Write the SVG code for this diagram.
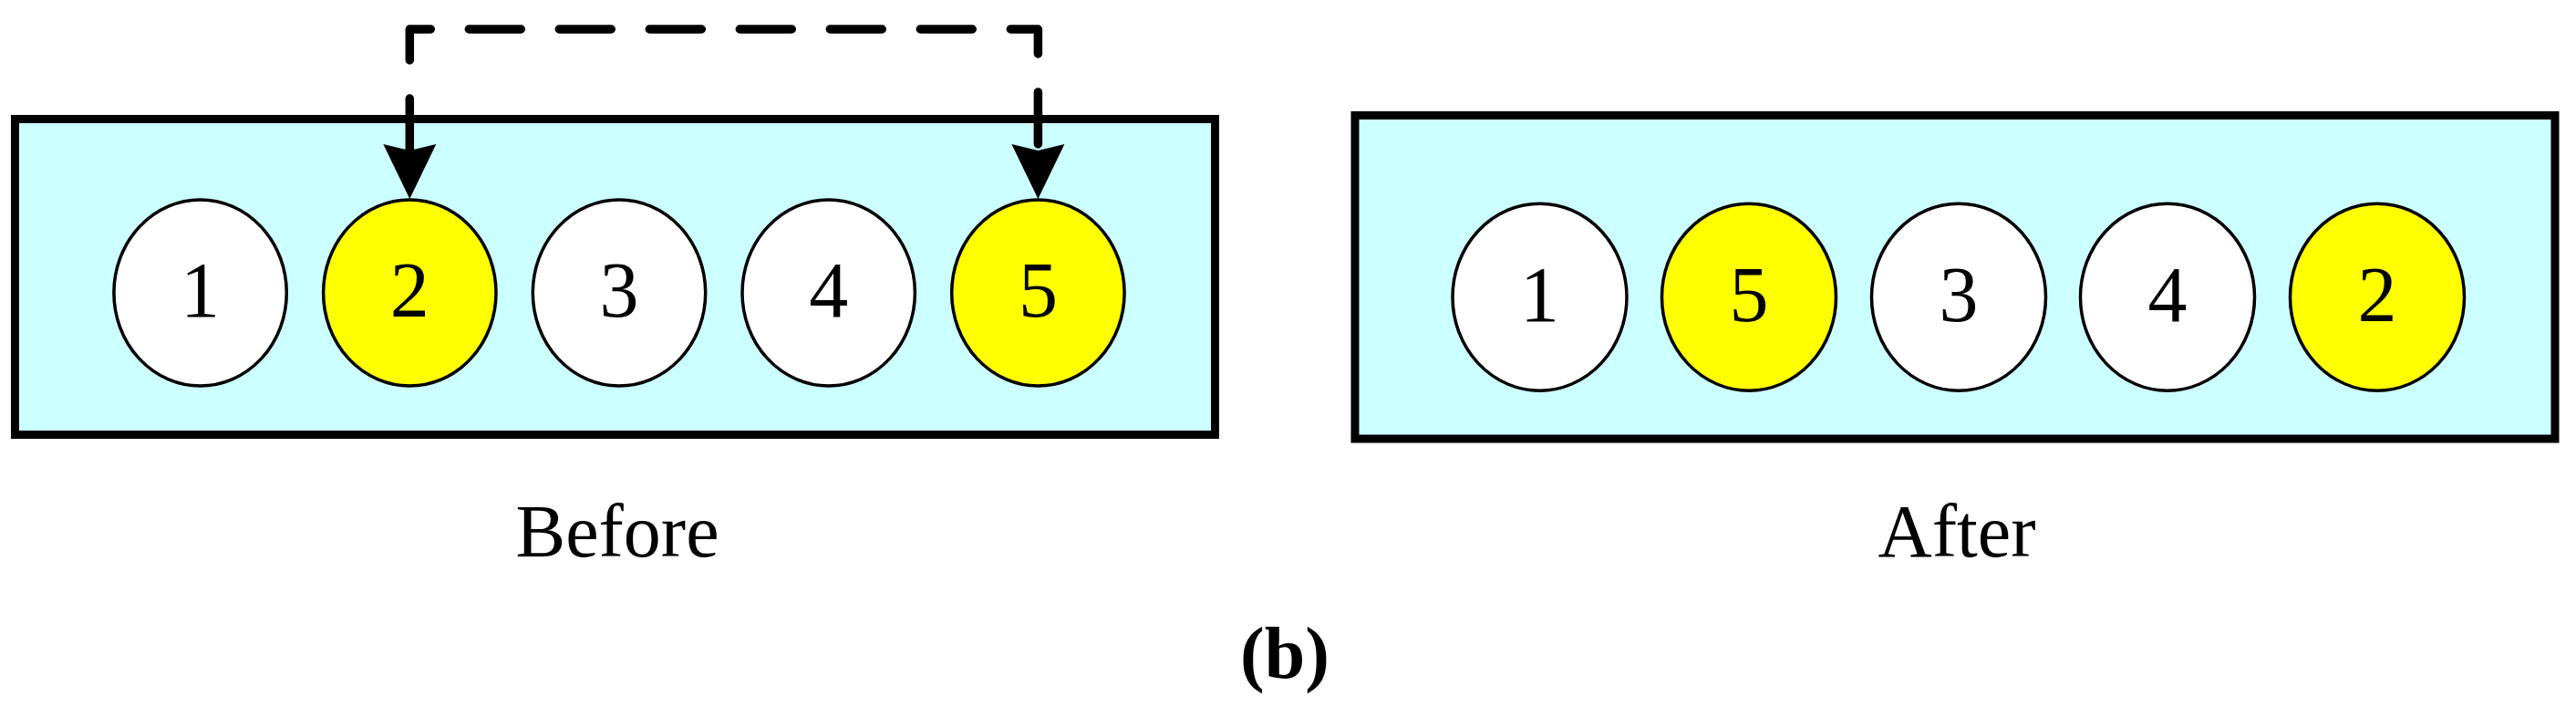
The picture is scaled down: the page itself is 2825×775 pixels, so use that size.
<svg xmlns="http://www.w3.org/2000/svg" width="2825" height="775" viewBox="0 0 2825 775">
<style>
.box{fill:#CCFFFF;stroke:#000;stroke-width:9}
.w{fill:#FFFFFF;stroke:#000;stroke-width:3.5}
.y{fill:#FFFF00;stroke:#000;stroke-width:3.5}
.num{font-family:"Liberation Serif","Times New Roman",serif;font-size:86px;text-anchor:middle;fill:#000}
.lbl{font-family:"Liberation Serif","Times New Roman",serif;font-size:82px;text-anchor:middle;fill:#000}
.cap{font-family:"Liberation Serif","Times New Roman",serif;font-size:80px;font-weight:bold;text-anchor:middle;fill:#000}
.conn{fill:none;stroke:#000;stroke-width:9.5;stroke-linecap:round;stroke-linejoin:round;stroke-dasharray:57 42}
</style>
<defs>
<marker id="ah" markerUnits="userSpaceOnUse" viewBox="0 -30 61 60" refX="7" refY="0" markerWidth="61" markerHeight="60" orient="auto-start-reverse" overflow="visible">
<path d="M0,-29 L60,0 L0,29 L7,0 Z" fill="#000"/>
</marker>
</defs>
<rect width="2825" height="775" fill="#FFFFFF"/>
<g id="before-box">
<rect class="box" x="16.5" y="130.5" width="1316" height="346"/>
</g>
<g id="before-1"><ellipse class="w" cx="219.6" cy="321" rx="94.7" ry="102"/><text class="num" x="219.6" y="347">1</text></g>
<g id="before-2"><ellipse class="y" cx="449.3" cy="321" rx="94.7" ry="102"/><text class="num" x="449.3" y="347">2</text></g>
<g id="before-3"><ellipse class="w" cx="679" cy="321" rx="94.7" ry="102"/><text class="num" x="679" y="347">3</text></g>
<g id="before-4"><ellipse class="w" cx="908.7" cy="321" rx="94.7" ry="102"/><text class="num" x="908.7" y="347">4</text></g>
<g id="before-5"><ellipse class="y" cx="1138.4" cy="321" rx="94.7" ry="102"/><text class="num" x="1138.4" y="347">5</text></g>
<g id="after-box">
<rect class="box" x="1486" y="126.5" width="1316" height="354.5"/>
</g>
<g id="after-1"><ellipse class="w" cx="1688.5" cy="325.7" rx="95.5" ry="102.5"/><text class="num" x="1688.5" y="352">1</text></g>
<g id="after-5"><ellipse class="y" cx="1918" cy="325.7" rx="95.5" ry="102.5"/><text class="num" x="1918" y="352">5</text></g>
<g id="after-3"><ellipse class="w" cx="2148" cy="325.7" rx="95.5" ry="102.5"/><text class="num" x="2148" y="352">3</text></g>
<g id="after-4"><ellipse class="w" cx="2377" cy="325.7" rx="95.5" ry="102.5"/><text class="num" x="2377" y="352">4</text></g>
<g id="after-2"><ellipse class="y" cx="2607" cy="325.7" rx="95.5" ry="102.5"/><text class="num" x="2607" y="352">2</text></g>
<g id="connectors">
<path class="conn" d="M449.3,165 V32 H1138.4 V165" marker-start="url(#ah)" marker-end="url(#ah)"/>
</g>
<g id="labels">
<text class="lbl" x="677" y="610">Before</text>
<text class="lbl" x="2146" y="610">After</text>
<text class="cap" x="1409" y="743">(b)</text>
</g>
</svg>
